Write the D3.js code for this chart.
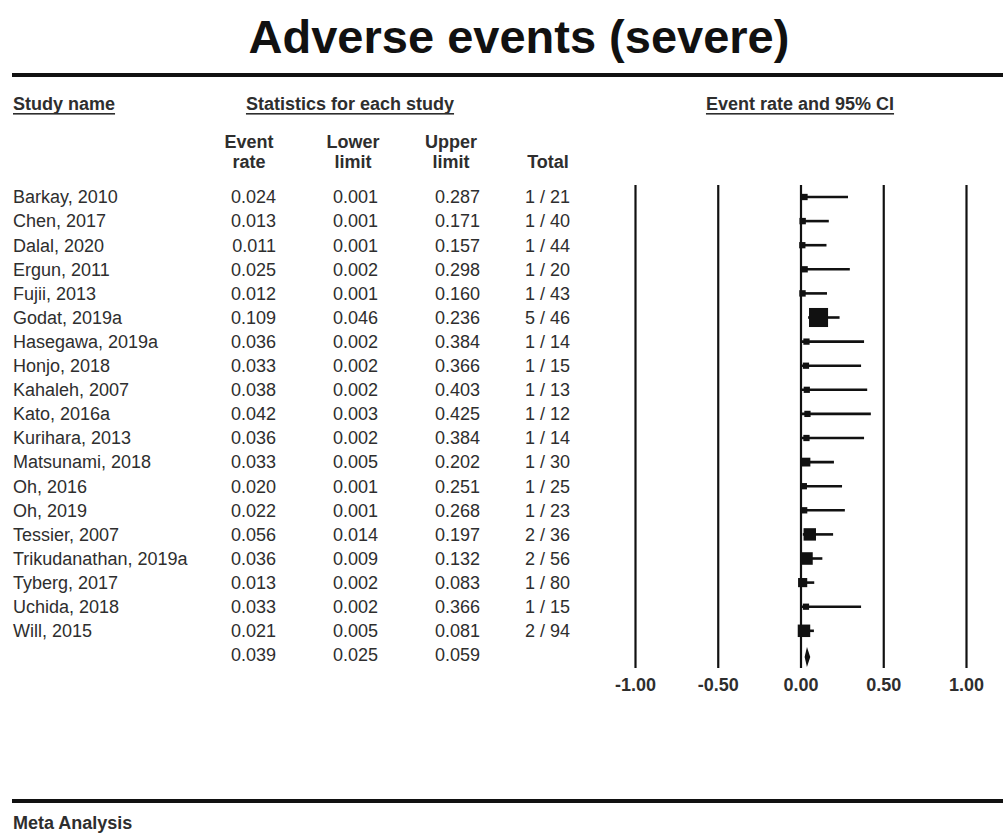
<!DOCTYPE html>
<html>
<head>
<meta charset="utf-8">
<script src="https://cdn.jsdelivr.net/npm/d3@7/dist/d3.min.js"></script>
<style>
  html, body { margin: 0; padding: 0; background: #fff; }
  svg { display: block; }
  text { font-family: Arial, "Liberation Sans", sans-serif; }
</style>
</head>
<body>
<svg id="chart" width="1003" height="834"></svg>
<script>
// Studies and their statistics (event rate with 95% CI)
const studies = [
  "Barkay, 2010", "Chen, 2017", "Dalal, 2020", "Ergun, 2011", "Fujii, 2013",
  "Godat, 2019a", "Hasegawa, 2019a", "Honjo, 2018", "Kahaleh, 2007", "Kato, 2016a",
  "Kurihara, 2013", "Matsunami, 2018", "Oh, 2016", "Oh, 2019", "Tessier, 2007",
  "Trikudanathan, 2019a", "Tyberg, 2017", "Uchida, 2018", "Will, 2015"
];
const eventRate = [0.024, 0.013, 0.011, 0.025, 0.012, 0.109, 0.036, 0.033, 0.038, 0.042,
                   0.036, 0.033, 0.020, 0.022, 0.056, 0.036, 0.013, 0.033, 0.021];
const lowerLimit = [0.001, 0.001, 0.001, 0.002, 0.001, 0.046, 0.002, 0.002, 0.002, 0.003,
                    0.002, 0.005, 0.001, 0.001, 0.014, 0.009, 0.002, 0.002, 0.005];
const upperLimit = [0.287, 0.171, 0.157, 0.298, 0.160, 0.236, 0.384, 0.366, 0.403, 0.425,
                    0.384, 0.202, 0.251, 0.268, 0.197, 0.132, 0.083, 0.366, 0.081];
const events = [1, 1, 1, 1, 1, 5, 1, 1, 1, 1, 1, 1, 1, 1, 2, 2, 1, 1, 2];
const totals = [21, 40, 44, 20, 43, 46, 14, 15, 13, 12, 14, 30, 25, 23, 36, 56, 80, 15, 94];

// Pooled estimate
const pooledRate = 0.039;
const pooledLower = 0.025;
const pooledUpper = 0.059;

const xTicks = [-1, -0.5, 0, 0.5, 1];

const svg = d3.select("#chart");
const ink = "#111";
const txt = "#2e2e2e";

// Title and rules
svg.append("text")
  .attr("x", 519).attr("y", 53)
  .attr("text-anchor", "middle")
  .attr("font-size", 47).attr("font-weight", "bold").attr("fill", ink)
  .text("Adverse events (severe)");

svg.append("rect").attr("x", 12).attr("y", 73).attr("width", 991).attr("height", 4).attr("fill", ink);
svg.append("rect").attr("x", 12).attr("y", 799).attr("width", 991).attr("height", 4).attr("fill", ink);

svg.append("text")
  .attr("x", 13).attr("y", 823).attr("dy", "0.35em")
  .attr("font-size", 18).attr("font-weight", "bold").attr("fill", txt)
  .text("Meta Analysis");

// Section headers (underlined)
const sectionHeads = [
  { label: "Study name", x: 13, anchor: "start" },
  { label: "Statistics for each study", x: 350, anchor: "middle" },
  { label: "Event rate and 95% CI", x: 800, anchor: "middle" }
];
sectionHeads.forEach(h => {
  const t = svg.append("text")
    .attr("x", h.x).attr("y", 104).attr("dy", "0.35em")
    .attr("text-anchor", h.anchor)
    .attr("font-size", 18).attr("font-weight", "bold").attr("fill", txt)
    .text(h.label);
  const bb = t.node().getBBox();
  svg.append("rect")
    .attr("x", bb.x).attr("y", 113).attr("width", bb.width).attr("height", 1.6)
    .attr("fill", txt);
});

// Column headers
const colRight = { rate: 276, lower: 378, upper: 480, total: 570 };
const colHeads = [
  { lines: ["Event", "rate"], x: 249 },
  { lines: ["Lower", "limit"], x: 353 },
  { lines: ["Upper", "limit"], x: 451 },
  { lines: ["", "Total"], x: 548 }
];
colHeads.forEach(c => {
  c.lines.forEach((ln, i) => {
    svg.append("text")
      .attr("x", c.x).attr("y", 142 + i * 20).attr("dy", "0.35em")
      .attr("text-anchor", "middle")
      .attr("font-size", 18).attr("font-weight", "bold").attr("fill", txt)
      .text(ln);
  });
});

// Row scale
const y = d3.scaleLinear().domain([0, studies.length]).range([197, 197 + studies.length * 24.1]);
const fmt = d3.format(".3f");

const rows = svg.append("g").selectAll("g")
  .data(studies.map((s, i) => ({
    name: s, rate: eventRate[i], lo: lowerLimit[i], hi: upperLimit[i],
    ev: events[i], n: totals[i], i
  })))
  .join("g")
  .attr("transform", d => `translate(0,${y(d.i)})`);

const cell = (sel, x, anchor, f) => sel.append("text")
  .attr("x", x).attr("dy", "0.35em")
  .attr("text-anchor", anchor)
  .attr("font-size", 18).attr("fill", txt)
  .text(f);

cell(rows, 13, "start", d => d.name);
cell(rows, colRight.rate, "end", d => fmt(d.rate));
cell(rows, colRight.lower, "end", d => fmt(d.lo));
cell(rows, colRight.upper, "end", d => fmt(d.hi));
cell(rows, colRight.total, "end", d => `${d.ev} / ${d.n}`);

// Pooled row values
const pooledRow = svg.append("g").attr("transform", `translate(0,${y(studies.length)})`);
cell(pooledRow, colRight.rate, "end", fmt(pooledRate));
cell(pooledRow, colRight.lower, "end", fmt(pooledLower));
cell(pooledRow, colRight.upper, "end", fmt(pooledUpper));

// Forest plot
const x = d3.scaleLinear().domain([-1, 1]).range([635, 966]);
const axisY = 668;
const gridTop = 185;

const axis = d3.axisBottom(x)
  .tickValues(xTicks)
  .tickSizeInner(-(axisY - gridTop))
  .tickSizeOuter(0)
  .tickPadding(10)
  .tickFormat(d => d.toFixed(2));

const ax = svg.append("g").attr("transform", `translate(0,${axisY})`).call(axis);
ax.select(".domain").remove();
ax.selectAll(".tick line").attr("stroke", ink).attr("stroke-width", 2.2);
ax.selectAll(".tick text")
  .attr("font-size", 18).attr("font-weight", "bold").attr("fill", txt)
  .attr("font-family", "Arial, 'Liberation Sans', sans-serif");

// Weight from the logit-scale standard error implied by the CI
const logit = p => Math.log(p / (1 - p));
const weight = d => {
  const se = (logit(d.hi) - logit(d.rate)) / 1.96;
  return 1 / (se * se);
};
const side = d3.scaleSqrt().domain([0, 1]).range([0, 9]);

const marks = svg.append("g");
const rowData = rows.data();

marks.selectAll("line.ci")
  .data(rowData)
  .join("line")
  .attr("class", "ci")
  .attr("x1", d => x(d.lo)).attr("x2", d => x(d.hi))
  .attr("y1", d => y(d.i)).attr("y2", d => y(d.i))
  .attr("stroke", ink).attr("stroke-width", 2.6);

marks.selectAll("rect.pt")
  .data(rowData)
  .join("rect")
  .attr("class", "pt")
  .attr("x", d => x(d.rate) - side(weight(d)) / 2)
  .attr("y", d => y(d.i) - side(weight(d)) / 2)
  .attr("width", d => side(weight(d)))
  .attr("height", d => side(weight(d)))
  .attr("fill", ink);

// Pooled diamond
const py = y(studies.length) + 2;
marks.append("path")
  .attr("d", `M${x(pooledLower)},${py} L${x(pooledRate)},${py - 10} L${x(pooledUpper)},${py} L${x(pooledRate)},${py + 10} Z`)
  .attr("fill", ink);
</script>
</body>
</html>
